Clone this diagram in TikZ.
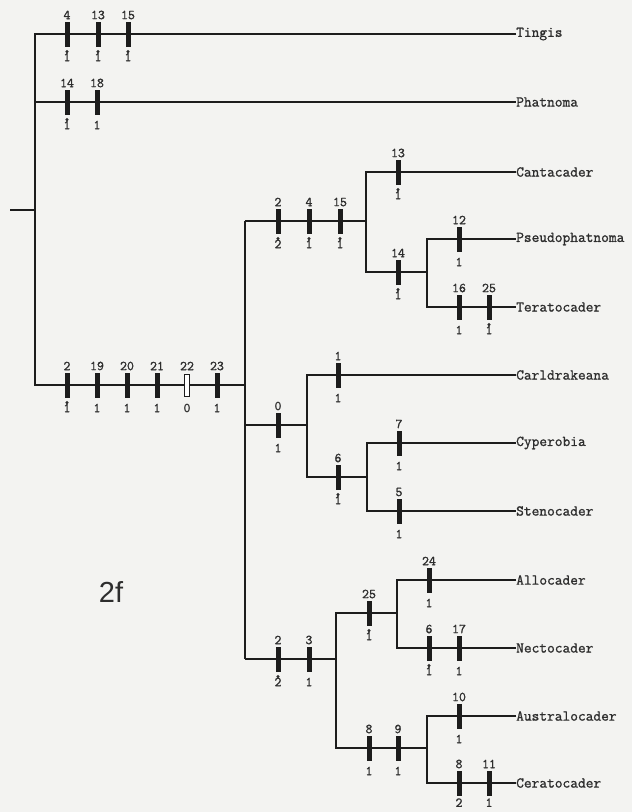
\documentclass[tikz,border=0pt]{standalone}
\usepackage{fontspec}
\setmainfont{Liberation Sans}
\newfontfamily\monof[FakeBold=1.2]{Latin Modern Mono}
\definecolor{bg}{RGB}{243,243,241}
\definecolor{ink}{RGB}{28,28,28}
\definecolor{txt}{RGB}{45,45,45}
\tikzset{
  branch/.style={line width=1.8pt, draw=ink},
  bar/.style={rectangle, fill=ink, minimum width=5pt, minimum height=25pt, inner sep=0pt},
  obar/.style={rectangle, draw=ink, fill=white, line width=0.8pt, minimum width=4.5pt, minimum height=22pt, inner sep=0pt},
  chr/.style={font=\monof\fontsize{13.5}{13.5}\selectfont, text=txt, inner sep=0pt},
  taxon/.style={font=\monof\fontsize{15}{15}\selectfont, text=txt, anchor=west, inner sep=0pt},
  dotm/.style={circle, fill=txt, minimum size=3.4pt, inner sep=0pt},
}
\newcommand\hm[6]{%
  \node[#6] (#1) at (#2,#3) {};
  \node[chr] (#1a) at (#2,#3-19) {#4};
  \node[chr] (#1b) at (#2,#3+23) {#5};
}
\newcommand\hmlow[5]{%
  \node[bar] (#1) at (#2,#3) {};
  \node[chr] (#1a) at (#2,#3-19) {#4};
  \node[chr,anchor=south] (#1b) at (#2,807) {#5};
}
\newcommand\hmd[5]{%
  \hm{#1}{#2}{#3}{#4}{#5}{bar}
  \node[dotm] (#1d) at (#2,#3+17.6) {};
}
\begin{document}
\begin{tikzpicture}[x=1pt,y=-1pt]
\fill[bg] (0,0) rectangle (632,812);
\useasboundingbox (0,0) rectangle (632,812);

% taxa
\node[taxon] (Tin) at (516,34) {Tingis};
\node[taxon] (Pha) at (516,102) {Phatnoma};
\node[taxon] (Can) at (516,172) {Cantacader};
\node[taxon] (Pse) at (516,239) {Pseudophatnoma};
\node[taxon] (Ter) at (516,307) {Teratocader};
\node[taxon] (Car) at (516,375) {Carldrakeana};
\node[taxon] (Cyp) at (516,443) {Cyperobia};
\node[taxon] (Ste) at (516,511) {Stenocader};
\node[taxon] (All) at (516,580) {Allocader};
\node[taxon] (Nec) at (516,648) {Nectocader};
\node[taxon] (Aus) at (516,716) {Australocader};
\node[taxon] (Cer) at (516,783) {Ceratocader};

\node[font=\fontsize{29}{29}\selectfont, text=txt, inner sep=0pt] (lab) at (111,592) {2f};

% junction coordinates
\coordinate (r0) at (10,210);
\coordinate (r1) at (35,210);
\coordinate (A) at (35,34);
\coordinate (P0) at (35,102);
\coordinate (B) at (35,385);
\coordinate (C) at (245,385);
\coordinate (Ct) at (245,221);
\coordinate (Cm) at (245,425);
\coordinate (Cb) at (245,659);
\coordinate (D) at (366,221);
\coordinate (Dt) at (366,172);
\coordinate (Db) at (366,272);
\coordinate (E) at (427,272);
\coordinate (Et) at (427,239);
\coordinate (Eb) at (427,307);
\coordinate (F) at (307,425);
\coordinate (Ft) at (307,375);
\coordinate (Fb) at (307,477);
\coordinate (G) at (367,477);
\coordinate (Gt) at (367,443);
\coordinate (Gb) at (367,511);
\coordinate (H) at (336,659);
\coordinate (Ht) at (336,613);
\coordinate (Hb) at (336,748);
\coordinate (I) at (397,613);
\coordinate (It) at (397,580);
\coordinate (Ib) at (397,648);
\coordinate (J) at (427,748);
\coordinate (Jt) at (427,716);
\coordinate (Jb) at (427,783);

% branches
\draw[branch] (r0) -- (r1);
\draw[branch] (Tin.west) -- (A) -- (B) -- (C);
\draw[branch] (P0) -- (Pha.west);
\draw[branch] (Ct) -- (Cb);
\draw[branch] (Ct) -- (D);
\draw[branch] (Can.west) -- (Dt) -- (Db) -- (E);
\draw[branch] (Pse.west) -- (Et) -- (Eb) -- (Ter.west);
\draw[branch] (Cm) -- (F);
\draw[branch] (Car.west) -- (Ft) -- (Fb) -- (G);
\draw[branch] (Cyp.west) -- (Gt) -- (Gb) -- (Ste.west);
\draw[branch] (Cb) -- (H);
\draw[branch] (I) -- (Ht) -- (Hb) -- (J);
\draw[branch] (All.west) -- (It) -- (Ib) -- (Nec.west);
\draw[branch] (Aus.west) -- (Jt) -- (Jb) -- (Cer.west);

% character marks
\hmd{m1}{67}{34}{4}{1}
\hmd{m2}{98}{34}{13}{1}
\hmd{m3}{128}{34}{15}{1}
\hmd{m4}{67}{102}{14}{1}
\hm{m5}{97}{102}{18}{1}{bar}
\hmd{m6}{67}{385}{2}{1}
\hm{m7}{97}{385}{19}{1}{bar}
\hm{m8}{127}{385}{20}{1}{bar}
\hm{m9}{157}{385}{21}{1}{bar}
\hm{m10}{187}{385}{22}{0}{obar}
\hm{m11}{217}{385}{23}{1}{bar}
\hmd{m12}{278}{221}{2}{2}
\hmd{m13}{309}{221}{4}{1}
\hmd{m14}{340}{221}{15}{1}
\hmd{m15}{398}{172}{13}{1}
\hmd{m16}{398}{272}{14}{1}
\hm{m17}{459}{239}{12}{1}{bar}
\hm{m18}{459}{307}{16}{1}{bar}
\hmd{m19}{489}{307}{25}{1}
\hm{m20}{278}{425}{0}{1}{bar}
\hm{m21}{338}{375}{1}{1}{bar}
\hmd{m22}{338}{477}{6}{1}
\hm{m23}{399}{443}{7}{1}{bar}
\hm{m24}{399}{511}{5}{1}{bar}
\hmd{m25}{278}{659}{2}{2}
\hm{m26}{309}{659}{3}{1}{bar}
\hmd{m27}{369}{613}{25}{1}
\hm{m28}{429}{580}{24}{1}{bar}
\hmd{m29}{429}{648}{6}{1}
\hm{m30}{459}{648}{17}{1}{bar}
\hm{m31}{369}{748}{8}{1}{bar}
\hm{m32}{398}{748}{9}{1}{bar}
\hm{m33}{459}{716}{10}{1}{bar}
\hmlow{m34}{459}{783}{8}{2}
\hmlow{m35}{489}{783}{11}{1}
\end{tikzpicture}
\end{document}
